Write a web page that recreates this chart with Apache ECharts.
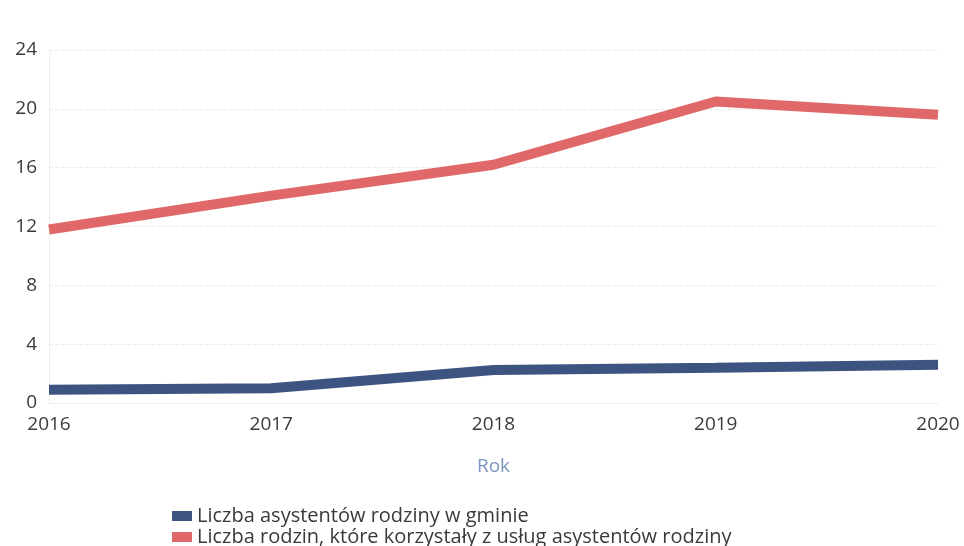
<!DOCTYPE html>
<html><head><meta charset="utf-8">
<script src="https://cdn.jsdelivr.net/npm/echarts@6/dist/echarts.min.js"></script>
<style>html,body{margin:0;padding:0;background:#fff}#c{width:964px;height:546px}</style>
</head><body><div id="c"></div>
<script>
const years = ['2016','2017','2018','2019','2020'];
const assistants = [0.9, 1.0, 2.25, 2.4, 2.6];
const families = [11.8, 14.1, 16.2, 20.5, 19.6];
const yTicks = [0, 4, 8, 12, 16, 20, 24];
const seriesNames = ['Liczba asystentów rodziny w gminie', 'Liczba rodzin, które korzystały z usług asystentów rodziny'];

const legendCommon = {
  orient: 'horizontal', left: 172,
  icon: 'rect', itemWidth: 20, itemHeight: 10, itemGap: 8, padding: 0,
  textStyle: {fontSize: 20, color: '#3a3a3a', fontFamily: 'Open Sans'}
};
const chart = echarts.init(document.getElementById('c'));
chart.setOption({
  backgroundColor: '#fff',
  textStyle: {fontFamily: 'Open Sans'},
  grid: {left: 49, right: 26, top: 50, bottom: 143},
  legend: [
    Object.assign({top: 506, data: [seriesNames[0]]}, legendCommon),
    Object.assign({top: 527, data: [seriesNames[1]]}, legendCommon)
  ],
  xAxis: {
    type: 'category', data: years, boundaryGap: false,
    name: 'Rok', nameLocation: 'middle', nameGap: 54,
    nameTextStyle: {color: '#7d95bf', fontSize: 19},
    axisLine: {show: true, lineStyle: {color: '#eeeeee'}},
    axisTick: {show: false},
    axisLabel: {color: '#3a3a3a', fontSize: 19, margin: 12}
  },
  yAxis: {
    type: 'value', min: yTicks[0], max: yTicks[yTicks.length-1], interval: 4,
    axisLine: {show: true, lineStyle: {color: '#eeeeee'}},
    axisTick: {show: false},
    axisLabel: {color: '#3a3a3a', fontSize: 19, margin: 12},
    splitLine: {lineStyle: {color: '#ececec', type: 'dashed'}}
  },
  series: [
    {name: seriesNames[0], type: 'line', data: assistants, symbol: 'none',
     lineStyle: {width: 10, color: '#3d5481'}, itemStyle: {color: '#3d5481'}},
    {name: seriesNames[1], type: 'line', data: families, symbol: 'none',
     lineStyle: {width: 10, color: '#e06868'}, itemStyle: {color: '#e06868'}}
  ]
});
</script></body></html>
